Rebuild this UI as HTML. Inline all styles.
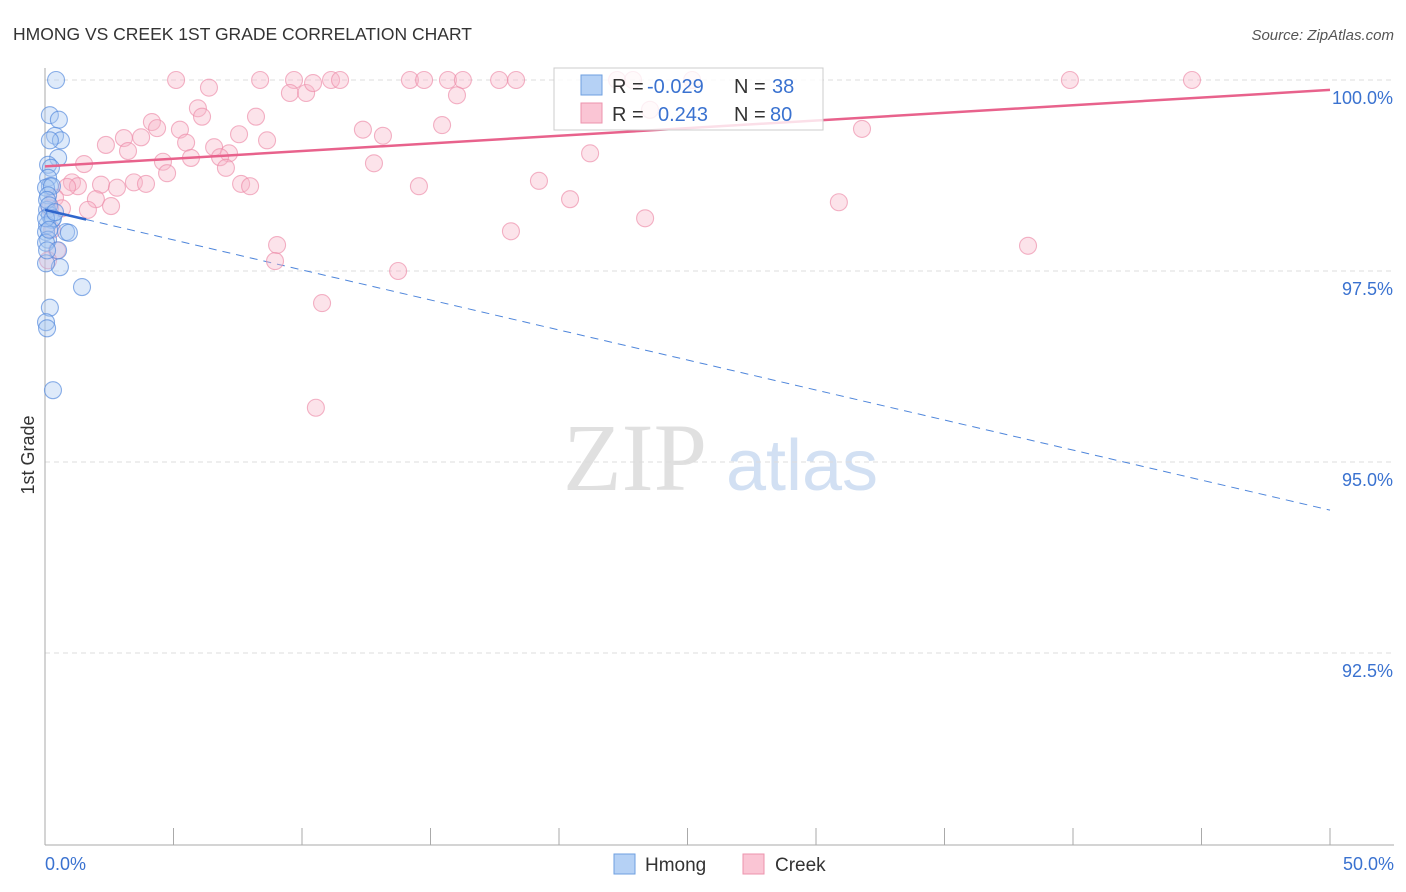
<!DOCTYPE html>
<html><head><meta charset="utf-8"><style>
body{margin:0;background:#fff;width:1406px;height:892px;overflow:hidden;font-family:"Liberation Sans",sans-serif}
</style></head><body>
<svg id="c" width="1406" height="892" xmlns="http://www.w3.org/2000/svg" style="position:absolute;left:0;top:0">
<text x="13" y="40" font-size="17.5" fill="#333">HMONG VS CREEK 1ST GRADE CORRELATION CHART</text>
<text x="1394" y="40" font-size="15" fill="#555" font-style="italic" text-anchor="end">Source: ZipAtlas.com</text>
<g>
<text x="635" y="490" font-size="96" fill="#e0e0e0" font-family="Liberation Serif,serif" text-anchor="middle">ZIP</text>
<text x="802" y="490" font-size="72" fill="#d2e0f3" text-anchor="middle">atlas</text>
</g>
<g id="grid"></g><g id="axes"></g><g id="lines"></g><g id="pts"></g>
<text transform="translate(34,455) rotate(-90)" font-size="18" fill="#333" text-anchor="middle">1st Grade</text>
<g>
<rect x="554" y="68" width="269" height="62" fill="#fff" fill-opacity="0.8" stroke="#ccc"/>
<rect x="581" y="75" width="21" height="20" fill="#b5d1f5" stroke="#6e9fe0"/>
<rect x="581" y="103" width="21" height="20" fill="#fac5d4" stroke="#ec93ad"/>
<text x="612" y="93" font-size="20" fill="#333">R = </text><text x="647" y="93" font-size="20" fill="#3a72d0">-0.029</text>
<text x="734" y="93" font-size="20" fill="#333">N = </text><text x="772" y="93" font-size="20" fill="#3a72d0">38</text>
<text x="612" y="121" font-size="20" fill="#333">R = </text><text x="658" y="121" font-size="20" fill="#3a72d0">0.243</text>
<text x="734" y="121" font-size="20" fill="#333">N = </text><text x="770" y="121" font-size="20" fill="#3a72d0">80</text>
</g>
<g>
<rect x="614" y="854" width="21" height="20" fill="#b5d1f5" stroke="#6e9fe0"/>
<text x="645" y="871" font-size="19" fill="#333">Hmong</text>
<rect x="743" y="854" width="21" height="20" fill="#fac5d4" stroke="#ec93ad"/>
<text x="775" y="871" font-size="19" fill="#333">Creek</text>
</g>
</svg>
<script>
const yTicks=[100,97.5,95,92.5];
const yTickLabels=["100.0%","97.5%","95.0%","92.5%"];
const xTickLabels=["0.0%","50.0%"];
const hmongX=[0.43,0.19,0.54,0.39,0.62,0.19,0.51,0.12,0.23,0.12,0.19,0.04,0.27,0.12,0.08,0.19,0.27,0.08,0.04,0.82,0.93,0.12,0.04,0.51,0.58,0.04,1.44,0.19,0.04,0.08,0.31,0.08,0.16,0.31,0.04,0.16,0.39,0.08];
const hmongY=[100.0,99.54,99.48,99.27,99.21,99.21,98.98,98.89,98.85,98.72,98.61,98.59,98.61,98.49,98.30,98.23,98.17,98.10,98.01,98.01,98.00,97.91,97.87,97.77,97.55,97.60,97.29,97.02,96.83,96.75,95.94,98.43,98.36,98.19,98.19,98.04,98.27,97.77];
const creekX=[5.10,6.38,8.37,9.69,9.53,10.16,10.43,11.13,11.48,14.20,14.75,15.68,16.26,16.03,17.67,18.33,22.26,22.88,23.54,25.18,39.88,44.63,5.95,6.11,8.21,4.16,5.25,4.36,3.74,3.07,2.37,3.23,5.49,6.58,7.16,7.55,8.64,5.68,4.59,4.75,6.81,7.04,12.37,13.15,15.45,12.80,21.21,31.79,1.52,1.05,1.28,2.18,2.80,3.46,3.93,0.86,0.39,1.98,2.57,1.67,0.66,0.19,7.63,7.98,14.55,19.22,20.43,23.35,30.89,18.13,9.03,8.95,13.74,10.78,38.25,10.54,0.47,0.12,0.27];
const creekY=[100.0,99.90,100.0,100.0,99.83,99.83,99.96,100.0,100.0,100.0,100.0,100.0,100.0,99.80,100.0,100.0,100.0,100.0,99.61,100.0,100.0,100.0,99.63,99.52,99.52,99.45,99.35,99.37,99.25,99.24,99.15,99.07,99.18,99.12,99.04,99.29,99.21,98.98,98.93,98.78,98.99,98.85,99.35,99.27,99.41,98.91,99.04,99.36,98.90,98.66,98.61,98.63,98.59,98.66,98.64,98.60,98.46,98.44,98.35,98.30,98.32,98.32,98.64,98.61,98.61,98.68,98.44,98.19,98.40,98.02,97.84,97.63,97.50,97.08,97.83,95.71,97.77,97.64,98.04];
const creekTrend=[98.87,99.87];
const hmongTrend=[98.30,94.37];
const hmongSolidEnd=1.6;
const X=v=>45+v/50*1285, Y=v=>80+(100-v)/2.5*191;
const NS='http://www.w3.org/2000/svg';
function mk(t,a,p){const e=document.createElementNS(NS,t);for(const k in a)e.setAttribute(k,a[k]);p.appendChild(e);return e;}
const grid=document.getElementById('grid'),axes=document.getElementById('axes'),lines=document.getElementById('lines'),pts=document.getElementById('pts');
yTicks.forEach((t,i)=>{
 const g=mk('line',{x1:45,x2:1394,y1:Y(t),y2:Y(t),stroke:'#ddd','stroke-dasharray':'5,4'},grid);
 
 
 const l=mk('text',{x:1393,y:Y(t)+24,'font-size':18,fill:'#3a72d0','text-anchor':'end'},axes);
 l.textContent=yTickLabels[i];
 
 
});
const ax=mk('line',{x1:45,x2:45,y1:68,y2:845,stroke:'#aaa'},axes);


const bx=mk('line',{x1:45,x2:1394,y1:845,y2:845,stroke:'#aaa'},axes);


for(let i=0;i<=10;i++){const t=mk('line',{x1:X(i*5),x2:X(i*5),y1:828,y2:845,stroke:'#aaa'},axes);
 
 }
xTickLabels.forEach((s,i)=>{const l=mk('text',{x:i?1394:45,y:870,'font-size':18,fill:'#3a72d0','text-anchor':i?'end':'start'},axes);l.textContent=s;
 
 });
function dot(x,y,f,s,n){const c=mk('circle',{cx:X(x),cy:Y(y),r:8.5,fill:f,'fill-opacity':0.38,stroke:s,'stroke-width':1.1,'stroke-opacity':0.65},pts);
 
 }
creekX.forEach((x,i)=>dot(x,creekY[i],'#f7b6c9','#ec8aa8','creek-point'));
hmongX.forEach((x,i)=>dot(x,hmongY[i],'#a8c8f2','#4f86db','hmong-point'));
const hy=v=>hmongTrend[0]+(hmongTrend[1]-hmongTrend[0])*v/50;
const d=mk('line',{x1:X(hmongSolidEnd),y1:Y(hy(hmongSolidEnd)),x2:X(50),y2:Y(hmongTrend[1]),stroke:'#4f86db','stroke-width':1,'stroke-dasharray':'8,6'},lines);


const s=mk('line',{x1:X(0),y1:Y(hmongTrend[0]),x2:X(hmongSolidEnd),y2:Y(hy(hmongSolidEnd)),stroke:'#2f66cc','stroke-width':2.5},pts);


const p=mk('line',{x1:X(0),y1:Y(creekTrend[0]),x2:X(50),y2:Y(creekTrend[1]),stroke:'#e8628c','stroke-width':2.5},pts);


</script>
</body></html>
